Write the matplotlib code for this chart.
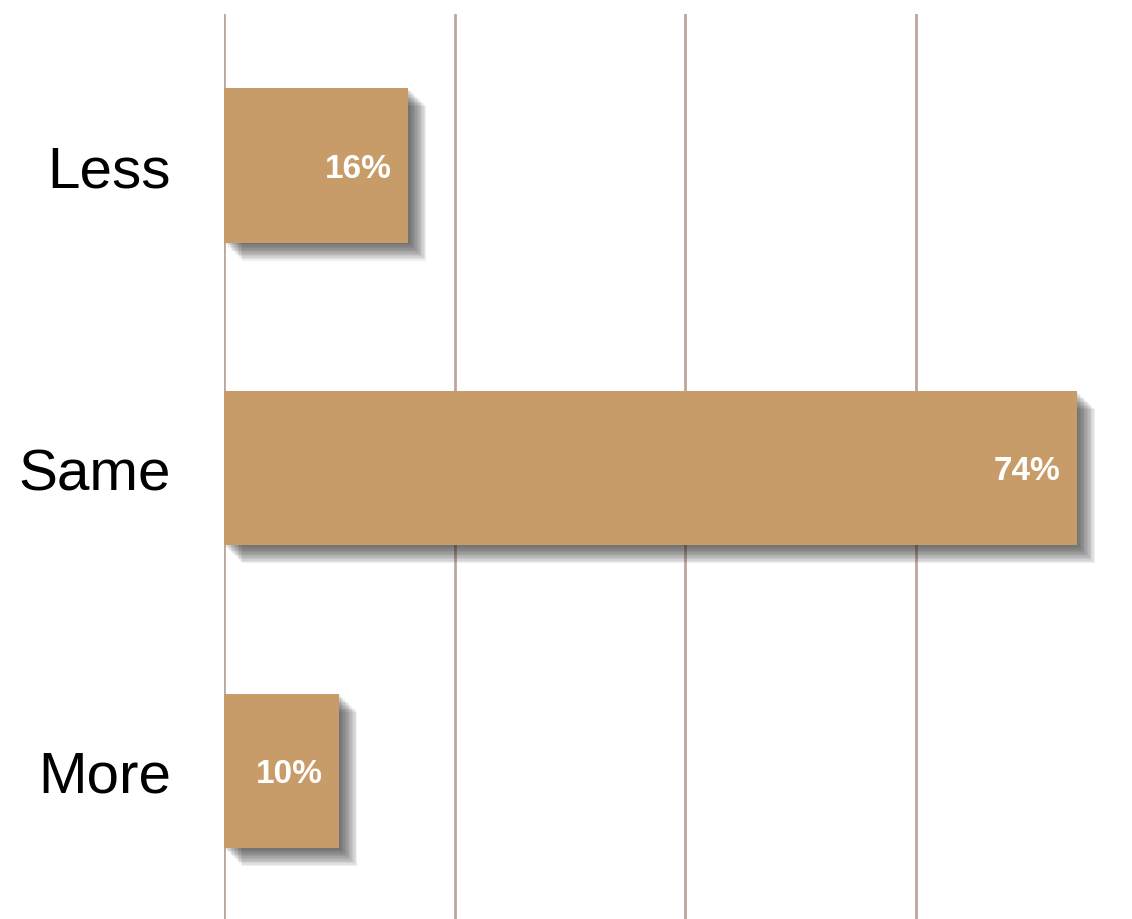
import matplotlib.pyplot as plt
import matplotlib.patheffects as pe

# datos
categories = ['Less', 'Same', 'More']
values = [16, 74, 10]
grid_ticks = [0, 20, 40, 60]

plt.rcParams['font.family'] = ['Liberation Sans', 'DejaVu Sans']

fig = plt.figure(figsize=(11.32, 9.2), dpi=100)
ax = fig.add_axes([224 / 1132, 0, 908 / 1132, 905 / 920])

ypos = list(range(len(categories)))

# sombra difusa: varias capas desplazadas
shadow = [pe.SimplePatchShadow(offset=(o, -o), shadow_rgbFace='#2a2a2a', alpha=0.075)
          for o in [1, 2, 3, 4, 5, 6, 7, 8, 9, 10, 11, 12, 13]]
shadow.append(pe.Normal())

bars = ax.barh(ypos, values, height=0.51, color='#C89C68', zorder=3)
for b in bars:
    b.set_path_effects(shadow)

# etiquetas de valor
for y, v in zip(ypos, values):
    ax.annotate(f'{v}%', xy=(v, y), xytext=(-12, -2), textcoords='offset points',
                ha='right', va='center', color='white', fontsize=24,
                fontweight='bold', zorder=4)

ax.set_xlim(0, 908 / (853 / 74))
ax.set_ylim(2.489, -0.5)
ax.set_xticks(grid_ticks)
ax.set_xticklabels([])
ax.grid(axis='x', color='#BDA79C', linewidth=2, zorder=0)
ax.tick_params(length=0)
ax.set_yticks(ypos)
ax.set_yticklabels(categories, fontsize=42)
ax.tick_params(axis='y', pad=38)
for s in ax.spines.values():
    s.set_visible(False)

plt.savefig('out.png', dpi=100)
